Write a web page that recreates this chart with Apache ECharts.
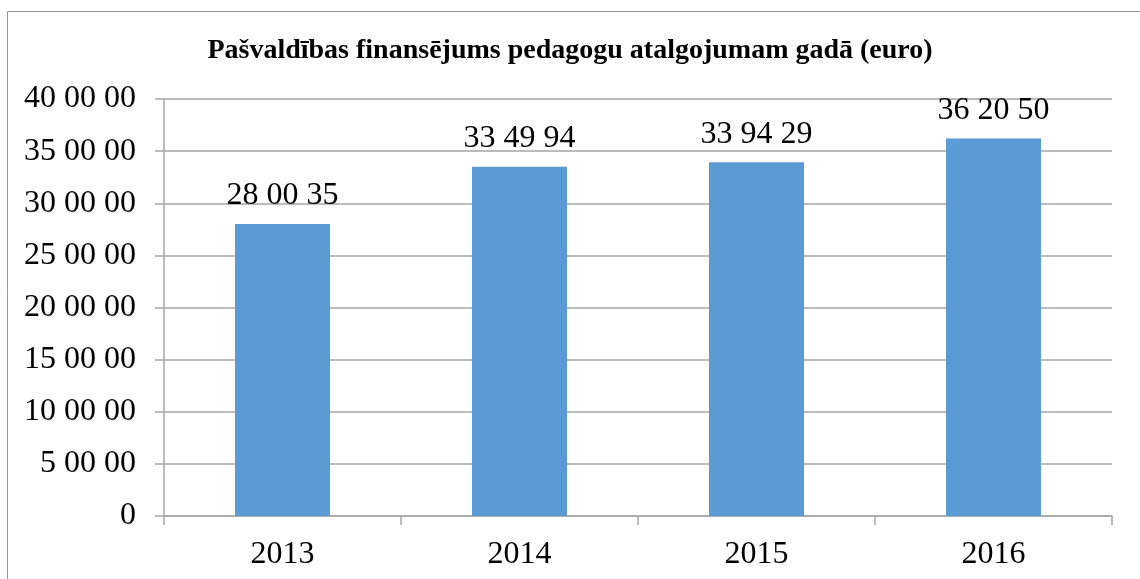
<!DOCTYPE html>
<html>
<head>
<meta charset="utf-8">
<script src="https://cdn.jsdelivr.net/npm/echarts@6/dist/echarts.min.js"></script>
<style>
html, body { margin: 0; padding: 0; background: #fff; }
#chart { width: 1140px; height: 579px; }
</style>
</head>
<body>
<div id="chart"></div>
<script>
// data
var years = ['2013', '2014', '2015', '2016']
var funding = [280035, 334994, 339429, 362050]
var yMax = 400000
var yStep = 50000

// 280035 -> '28 00 35' (groups of two digits, as in the original)
function pairs (v) {
  var s = String(Math.round(v))
  var out = []
  while (s.length > 2) {
    out.unshift(s.slice(-2))
    s = s.slice(0, -2)
  }
  out.unshift(s)
  return out.join(' ')
}

var serif = 'Liberation Serif'
var gray = '#a6a6a6'

var option = {
  animation: false,
  backgroundColor: '#fff',
  title: {
    text: 'Pašvaldības finansējums pedagogu atalgojumam gadā (euro)',
    left: 'center',
    top: 32,
    textStyle: {
      fontFamily: serif,
      fontWeight: 'bold',
      fontSize: 28,
      color: '#000'
    }
  },
  graphic: [
    {
      type: 'rect',
      shape: { x: 7.5, y: 11.5, width: 1300, height: 1000 },
      style: { fill: 'none', stroke: '#999', lineWidth: 1 },
      silent: true
    }
  ],
  grid: {
    left: 164,
    right: 28,
    top: 99,
    bottom: 63
  },
  xAxis: {
    type: 'category',
    data: years,
    axisLine: { lineStyle: { color: gray, width: 1.5 } },
    axisTick: { show: true, length: 9, lineStyle: { color: gray, width: 1.5 } },
    axisLabel: {
      fontFamily: serif,
      fontSize: 32,
      color: '#000',
      margin: 23
    }
  },
  yAxis: {
    type: 'value',
    min: 0,
    max: yMax,
    interval: yStep,
    axisLine: { show: true, lineStyle: { color: gray, width: 1.5 } },
    axisTick: { show: true, length: 9, lineStyle: { color: gray, width: 1.5 } },
    splitLine: { lineStyle: { color: gray, width: 1.5 } },
    axisLabel: {
      fontFamily: serif,
      fontSize: 32,
      color: '#000',
      margin: 28,
      formatter: pairs
    }
  },
  series: [
    {
      type: 'bar',
      data: funding,
      barWidth: 95,
      itemStyle: { color: '#5b9bd5' },
      label: {
        show: true,
        position: 'top',
        distance: 12,
        fontFamily: serif,
        fontSize: 32,
        color: '#000',
        formatter: function (p) { return pairs(p.value) }
      }
    }
  ]
}

var chart = echarts.init(document.getElementById('chart'))
chart.setOption(option)
</script>
</body>
</html>
